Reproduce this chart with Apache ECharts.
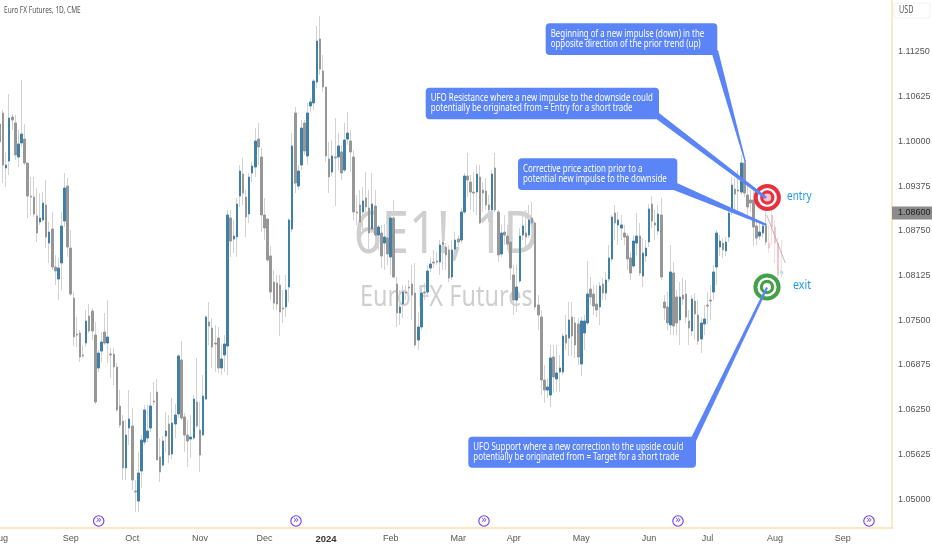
<!DOCTYPE html>
<html><head><meta charset="utf-8"><title>Euro FX Futures</title>
<script src="https://cdn.jsdelivr.net/npm/echarts@6/dist/echarts.min.js"></script>
<style>html,body{margin:0;padding:0;background:#fff}#c{width:932px;height:550px}</style></head>
<body><div id="c"></div>
<script>
const opens=[1.10243,1.10397,1.09628,1.09726,1.10341,1.10257,1.09782,1.09978,1.10033,1.09698,1.09236,1.09222,1.08957,1.08873,1.08901,1.09111,1.08579,1.08775,1.08244,1.08076,1.08300,1.08887,1.09376,1.08509,1.07810,1.07307,1.07321,1.07014,1.07181,1.07559,1.07629,1.07293,1.06832,1.07069,1.07335,1.07181,1.07027,1.07027,1.06846,1.06301,1.06091,1.05434,1.05993,1.06021,1.05112,1.04972,1.05392,1.05797,1.05853,1.05993,1.06370,1.06496,1.05587,1.05475,1.05881,1.06049,1.05629,1.06049,1.06189,1.06944,1.06147,1.05895,1.05839,1.05853,1.06356,1.05965,1.05895,1.06398,1.07475,1.07391,1.07181,1.07251,1.06832,1.07014,1.07139,1.08929,1.08635,1.08663,1.09236,1.09544,1.09222,1.08985,1.09558,1.09642,1.10033,1.09782,1.08971,1.08915,1.08398,1.08034,1.08020,1.07992,1.07671,1.07685,1.07964,1.08775,1.10397,1.09376,1.09670,1.10257,1.09796,1.10495,1.10537,1.10830,1.11432,1.10984,1.10760,1.09754,1.09572,1.09782,1.09782,1.09852,1.09600,1.10033,1.10005,1.09782,1.09013,1.09111,1.09013,1.09209,1.09069,1.08775,1.09097,1.08691,1.08719,1.08579,1.08649,1.08384,1.08929,1.08006,1.07601,1.07726,1.07894,1.07964,1.08006,1.07880,1.07223,1.07405,1.07894,1.07894,1.08230,1.08314,1.08328,1.08314,1.08593,1.08523,1.08482,1.08104,1.08495,1.08635,1.08621,1.09013,1.09516,1.09432,1.09292,1.09292,1.09502,1.09320,1.09306,1.09111,1.09041,1.09628,1.09013,1.08426,1.08733,1.08677,1.08593,1.08132,1.07782,1.08048,1.08691,1.08719,1.08691,1.08929,1.08859,1.07713,1.07545,1.06664,1.06524,1.06454,1.06986,1.06678,1.06776,1.06776,1.07293,1.07251,1.07545,1.07461,1.07447,1.06888,1.07321,1.07461,1.07936,1.07866,1.07726,1.07685,1.08006,1.07880,1.08076,1.08356,1.08999,1.08831,1.08789,1.08719,1.08677,1.08370,1.08258,1.08579,1.08677,1.08118,1.08398,1.08593,1.09125,1.08859,1.08747,1.08971,1.07754,1.07685,1.07433,1.08160,1.07824,1.07503,1.07852,1.07866,1.07489,1.07349,1.07768,1.07573,1.07237,1.07447,1.07712,1.07782,1.07894,1.08244,1.08523,1.08579,1.08468,1.08663,1.09013,1.09334,1.09320,1.09292,1.09698,1.09250,1.09181,1.09181,1.08817,1.08677,1.08719,1.08817];
const closes=[1.09992,1.09670,1.09670,1.10327,1.10299,1.09810,1.09964,1.10103,1.09698,1.09236,1.09222,1.08985,1.08719,1.08929,1.09139,1.08663,1.08733,1.08244,1.08188,1.08230,1.08817,1.09348,1.08523,1.07866,1.07265,1.07293,1.06986,1.07000,1.07489,1.07349,1.07349,1.06356,1.07041,1.07195,1.07181,1.07265,1.07014,1.06846,1.06245,1.06035,1.05434,1.05895,1.06119,1.05266,1.05098,1.05364,1.05825,1.06245,1.05951,1.06301,1.06356,1.05545,1.05378,1.05811,1.05951,1.05615,1.06063,1.06175,1.07000,1.06133,1.05895,1.05811,1.05867,1.06398,1.06021,1.05615,1.06440,1.07545,1.07419,1.07125,1.07167,1.06832,1.06958,1.07167,1.08971,1.08607,1.08677,1.09125,1.09586,1.09278,1.08943,1.09502,1.09656,1.10005,1.09922,1.08971,1.08789,1.08342,1.07894,1.07740,1.07726,1.07615,1.07657,1.07922,1.08901,1.09936,1.09418,1.09586,1.10187,1.09866,1.10397,1.10551,1.10844,1.11404,1.11012,1.10760,1.09796,1.09502,1.09796,1.09768,1.09936,1.09558,1.10019,1.10117,1.09852,1.09013,1.08999,1.08873,1.09167,1.09083,1.08719,1.09125,1.08691,1.08803,1.08398,1.08663,1.08426,1.08929,1.08104,1.07601,1.07685,1.07894,1.07880,1.07950,1.07852,1.07153,1.07405,1.07880,1.07880,1.08188,1.08286,1.08300,1.08314,1.08552,1.08552,1.08412,1.08090,1.08482,1.08621,1.08593,1.09013,1.09516,1.09460,1.09292,1.09278,1.09544,1.08859,1.09278,1.09111,1.09041,1.09544,1.09041,1.08412,1.08719,1.08691,1.08565,1.08230,1.07782,1.07964,1.08677,1.08817,1.08663,1.08901,1.08859,1.07685,1.07573,1.06664,1.06524,1.06566,1.06972,1.06706,1.06762,1.06832,1.07279,1.07181,1.07503,1.07279,1.07153,1.06986,1.07489,1.07489,1.07866,1.07824,1.07698,1.07643,1.07978,1.07880,1.08062,1.08370,1.08943,1.08859,1.08901,1.08831,1.08663,1.08356,1.08160,1.08607,1.08677,1.08160,1.08440,1.08509,1.09055,1.08887,1.08831,1.08985,1.08104,1.07671,1.07461,1.08174,1.07419,1.07461,1.07824,1.07796,1.07545,1.07391,1.07796,1.07587,1.07209,1.07461,1.07517,1.07698,1.07768,1.08174,1.08719,1.08607,1.08482,1.08593,1.08999,1.09390,1.09264,1.09306,1.09698,1.09278,1.09083,1.09139,1.08803,1.08649,1.08733,1.08817,1.08593];
const highs=[1.10411,1.10439,1.09852,1.10663,1.10383,1.10369,1.10159,1.10858,1.10243,1.09698,1.09502,1.09502,1.09348,1.09278,1.09292,1.09460,1.08873,1.09013,1.08412,1.08370,1.09013,1.09558,1.09488,1.08761,1.07894,1.07545,1.07363,1.07153,1.07643,1.07726,1.07671,1.07475,1.07083,1.07335,1.07601,1.07782,1.07111,1.07111,1.06902,1.06524,1.06175,1.06105,1.06524,1.06273,1.05266,1.05657,1.05895,1.06315,1.06315,1.06496,1.06636,1.06678,1.05853,1.05881,1.06217,1.06175,1.06412,1.06328,1.07027,1.07209,1.06203,1.06105,1.06175,1.06454,1.06972,1.06356,1.06734,1.07573,1.07754,1.07531,1.07433,1.07405,1.07153,1.07293,1.09041,1.09041,1.08901,1.09209,1.09670,1.09768,1.09320,1.09558,1.09712,1.10187,1.10257,1.09908,1.09209,1.08929,1.08537,1.08202,1.08132,1.08132,1.07922,1.08132,1.08929,1.10117,1.10481,1.09670,1.10299,1.10299,1.10537,1.10607,1.10872,1.11613,1.11753,1.11208,1.10760,1.09992,1.10019,1.10327,1.10117,1.09950,1.10257,1.10411,1.10159,1.09880,1.09250,1.09320,1.09362,1.09572,1.09320,1.09558,1.09320,1.08831,1.08831,1.08845,1.08873,1.08957,1.09181,1.08104,1.07922,1.07992,1.07992,1.08062,1.08272,1.08300,1.07615,1.07964,1.08020,1.08272,1.08370,1.08482,1.08454,1.08621,1.08677,1.08579,1.08552,1.08621,1.08733,1.08691,1.09069,1.09558,1.09838,1.09530,1.09572,1.09670,1.09670,1.09432,1.09488,1.09250,1.09600,1.09838,1.09041,1.08831,1.08971,1.08831,1.08621,1.08272,1.08272,1.08789,1.08971,1.09041,1.09111,1.09153,1.08873,1.07852,1.07643,1.06874,1.06692,1.07153,1.07153,1.07153,1.07014,1.07321,1.07573,1.07754,1.07754,1.07545,1.07531,1.07545,1.07573,1.08328,1.08104,1.07992,1.07992,1.08034,1.08090,1.08174,1.08552,1.08971,1.09111,1.09013,1.08971,1.08831,1.08719,1.08454,1.08691,1.08999,1.08859,1.08649,1.08621,1.09125,1.09236,1.09041,1.09111,1.09209,1.07852,1.07894,1.08552,1.08314,1.07922,1.08034,1.08090,1.08062,1.07643,1.07852,1.07880,1.07782,1.07531,1.07712,1.07894,1.07992,1.08272,1.08761,1.08691,1.08649,1.08663,1.09083,1.09502,1.09488,1.09600,1.09810,1.09740,1.09390,1.09320,1.09320,1.08873,1.08873,1.08873,1.09069];
const lows=[1.09880,1.09418,1.09362,1.09530,1.10159,1.09740,1.09642,1.09922,1.09670,1.08929,1.08971,1.08943,1.08593,1.08831,1.08873,1.08509,1.08300,1.08202,1.07992,1.07782,1.07922,1.08803,1.08384,1.07838,1.07139,1.07125,1.06916,1.06972,1.07125,1.07321,1.07223,1.06328,1.06776,1.06916,1.07153,1.06902,1.06692,1.06594,1.06217,1.05993,1.05266,1.05266,1.05755,1.05126,1.04818,1.04818,1.05154,1.05755,1.05797,1.05937,1.06315,1.05545,1.05238,1.05447,1.05657,1.05503,1.05559,1.05853,1.06133,1.06105,1.05657,1.05447,1.05573,1.05825,1.05993,1.05378,1.05881,1.06384,1.07153,1.06832,1.06776,1.06762,1.06734,1.06776,1.06734,1.08384,1.08440,1.08384,1.09083,1.09111,1.08663,1.08859,1.09432,1.09502,1.09670,1.08733,1.08621,1.08314,1.07782,1.07643,1.07643,1.07279,1.07461,1.07545,1.07754,1.08733,1.09278,1.09320,1.09600,1.09810,1.09670,1.10411,1.10439,1.10746,1.10928,1.10691,1.09712,1.09278,1.09516,1.09097,1.09600,1.09460,1.09572,1.09950,1.09572,1.08901,1.08831,1.08831,1.08761,1.09013,1.08482,1.08719,1.08621,1.08482,1.08230,1.08202,1.08272,1.08132,1.08090,1.07405,1.07433,1.07531,1.07782,1.07852,1.07503,1.07125,1.07083,1.07363,1.07782,1.07852,1.08174,1.08230,1.08272,1.08132,1.08202,1.08202,1.08034,1.08062,1.08454,1.08537,1.08579,1.08985,1.09222,1.09041,1.09013,1.08971,1.08845,1.09013,1.09041,1.08873,1.09013,1.09013,1.08314,1.08384,1.08552,1.08482,1.08062,1.07573,1.07615,1.08020,1.08621,1.08482,1.08649,1.08831,1.07643,1.07363,1.06454,1.06342,1.06412,1.06287,1.06482,1.06496,1.06496,1.06734,1.07083,1.07000,1.07000,1.06972,1.06874,1.06720,1.07083,1.07433,1.07712,1.07573,1.07545,1.07433,1.07782,1.07782,1.08034,1.08314,1.08621,1.08552,1.08621,1.08552,1.08202,1.08062,1.08230,1.08412,1.08118,1.07964,1.08314,1.08523,1.08789,1.08621,1.08691,1.08062,1.07503,1.07363,1.07293,1.07293,1.07293,1.07153,1.07712,1.07461,1.07153,1.07279,1.07223,1.07153,1.07041,1.07293,1.07433,1.07503,1.07782,1.07992,1.08398,1.08370,1.08398,1.08593,1.08971,1.09013,1.09041,1.09250,1.09222,1.08971,1.09013,1.08537,1.08552,1.08621,1.08649,1.08552];
const projOpens=[1.08579,1.08971,1.08803,1.08579,1.08146];
const projCloses=[1.08509,1.08803,1.08579,1.08132,1.08188];
const projHighs=[1.08831,1.09111,1.08901,1.08663,1.08621];
const projLows=[1.08440,1.08552,1.08300,1.08062,1.08104];
const barCount=291;
const monthLabels=['Aug','Sep','Oct','Nov','Dec','2024','Feb','Mar','Apr','May','Jun','Jul','Aug','Sep'];
const monthIndex=[0,23,43,65,86,106,127,149,167,189,211,230,252,274];
const priceTicks=[1.05,1.05625,1.0625,1.06875,1.075,1.08125,1.0875,1.09375,1.1,1.10625,1.1125];
const lastPrice=1.086;
const chartTitle='Euro FX Futures, 1D, CME';
const symbolMark='6E1!, 1D';
const nameMark='Euro FX Futures';
const notes=['Beginning of a new impulse (down) in the\nopposite direction of the prior trend (up)',
 'UFO Resistance where a new impulse to the downside could\npotentially be originated from = Entry for a short trade',
 'Corrective price action prior to a\npotential new impulse to the downside',
 'UFO Support where a new correction to the upside could\npotentially be originated from = Target for a short trade'];

const FONT='"Noto Sans",sans-serif';
const AXF='"Liberation Sans",sans-serif';
const BLUE='#5b85f6';
const cats=Array.from({length:barCount},(_,i)=>String(i));
const labelAt={};monthIndex.forEach((k,j)=>labelAt[k]=monthLabels[j]);
const wicks=opens.map((o,i)=>[o,closes[i],lows[i],highs[i]]);
const bodies=opens.map((o,i)=>[o,closes[i],Math.min(o,closes[i]),Math.max(o,closes[i])]);
const pad=Array(opens.length).fill('-');
const pWicks=pad.concat(projOpens.map((o,i)=>[o,projCloses[i],projLows[i],projHighs[i]]));
const pBodies=pad.concat(projOpens.map((o,i)=>[o,projCloses[i],Math.min(o,projCloses[i]),Math.max(o,projCloses[i])]));

function label(x,y,text,fill,size,sx,z,extra){
 return {type:'text',z:z,silent:true,x:x,y:y,scaleX:sx,style:Object.assign({text:text,fill:fill,font:size+'px '+FONT,verticalAlign:'middle',align:'left'},extra||{})};
}
function callout(rect,tail,text){
 return [
  {type:'polygon',z:50,silent:true,shape:{points:tail},style:{fill:BLUE}},
  {type:'rect',z:50,silent:true,shape:{x:rect[0],y:rect[1],width:rect[2],height:rect[3],r:4},style:{fill:BLUE}},
  label(rect[0]+5,rect[1]+rect[3]/2,text,'#fff',10.4,0.76,51,{lineHeight:10})
 ];
}
function ring(cx,cy,col,inner){
 return [
  {type:'circle',z:40,silent:true,shape:{cx:cx,cy:cy,r:11.6},style:{fill:'#fff',stroke:col,lineWidth:4}},
  {type:'circle',z:40,silent:true,shape:{cx:cx,cy:cy,r:5.6},style:{fill:inner,stroke:col,lineWidth:3.2}}
 ];
}
function eventIcon(cx){
 return [
  {type:'circle',z:45,silent:true,shape:{cx:cx,cy:521,r:5.2},style:{fill:'#fff',stroke:'#6a3cf0',lineWidth:1.1}},
  {type:'text',z:46,silent:true,x:cx,y:520.5,style:{text:'»',fill:'#6a3cf0',font:'10px "DejaVu Sans"',align:'center',verticalAlign:'middle'}}
 ];
}
const graphics=[
 label(354,236,symbolMark,'#cfcfcf',58,0.84,0),
 label(360,298,nameMark,'#cfcfcf',29,0.81,0),
 label(4,10,chartTitle,'#555',9.6,0.68,60),
 {type:'rect',z:60,silent:true,shape:{x:894,y:3,width:36,height:15,r:2},style:{fill:'#fff',stroke:'#f2f2f2',lineWidth:1}},
 label(899,10.5,'USD','#555',10,0.72,61),
 ...ring(767.3,197.5,'#e8303f','#f7c4c8'),
 ...ring(767,287,'#43a047','#fff'),
 {type:'line',z:41,silent:true,shape:{x1:766.7,y1:215,x2:785.3,y2:263},style:{stroke:'#b5a5a5',lineWidth:0.8}},
 ...callout([545.7,23.3,171.6,31.7],[[712,54],[718,50],[746,162],[745,163]],notes[0]),
 ...callout([425.7,87.7,233.3,31.6],[[655,118],[659,113],[767,197],[765,199]],notes[1]),
 ...callout([518,158.3,159.3,31.7],[[671,189],[677,183],[767,224],[766,226]],notes[2]),
 ...callout([468.3,436.7,227.7,31],[[691,438],[696,441],[768,288],[766,287]],notes[3]),
 label(787,196.5,'entry','#2196f3',12.5,0.8,55),
 label(793,285.5,'exit','#2196f3',12.5,0.85,55),
 ...[98.7,296,484,678,869].flatMap(eventIcon)
];

const chart=echarts.init(document.getElementById('c'),null,{renderer:'canvas'});
chart.setOption({
 animation:false,backgroundColor:'#fff',
 grid:{left:0,right:40,top:0,bottom:22,outerBoundsMode:'none'},
 tooltip:{show:false},legend:{show:false},
 xAxis:{type:'category',data:cats,boundaryGap:false,containShape:false,
  axisLine:{show:true,lineStyle:{color:'#fbe0ae',width:1.5}},axisTick:{show:false},splitLine:{show:false},
  axisLabel:{show:true,interval:0,margin:6,color:'#555',fontSize:9,fontFamily:AXF,hideOverlap:false,showMinLabel:true,showMaxLabel:true,
   formatter:function(v){const s=labelAt[v]||'';return s==='2024'?'{b|2024}':s;},
   rich:{b:{fontWeight:'bold',color:'#333',fontSize:9.5,fontFamily:AXF}}}},
 yAxis:{type:'value',position:'right',min:1.04595,max:1.11977,containShape:false,
  axisLine:{show:true,onZero:false,lineStyle:{color:'#fbe0ae',width:1.5}},axisTick:{show:false},splitLine:{show:false},
  axisLabel:{customValues:priceTicks,margin:6,color:'#555',fontSize:9,fontFamily:AXF,align:'left',formatter:v=>v.toFixed(5)}},
 graphic:{elements:graphics},
 series:[
  {name:'Wicks',type:'candlestick',data:wicks,barWidth:1,z:3,silent:true,
   itemStyle:{color:'#d2d2d2',color0:'#d2d2d2',borderColor:'#d2d2d2',borderColor0:'#d2d2d2',borderWidth:1}},
  {name:'Bodies',type:'candlestick',data:bodies,barWidth:2,z:4,silent:true,
   itemStyle:{color:'#3f7fa8',color0:'#979797',borderColor:'#3f7fa8',borderColor0:'#979797',borderWidth:1},
   markLine:{silent:true,symbol:'none',animation:false,lineStyle:{color:'rgba(0,0,0,0)',width:0},clip:false,
    data:[{yAxis:lastPrice}],
    label:{show:true,position:'end',distance:0,formatter:()=>lastPrice.toFixed(5),backgroundColor:'#8b8b8b',color:'#222',fontSize:9,fontFamily:AXF,padding:[2,5,2,6]}}},
  {name:'Projected wicks',type:'candlestick',data:pWicks,barWidth:1,z:3,silent:true,
   itemStyle:{color:'#f6dcdf',color0:'#f6dcdf',borderColor:'#f6dcdf',borderColor0:'#f6dcdf',borderWidth:1}},
  {name:'Projected bodies',type:'candlestick',data:pBodies,barWidth:2,z:4,silent:true,
   itemStyle:{color:'#bfe2e4',color0:'#f5c3c8',borderColor:'#bfe2e4',borderColor0:'#f5c3c8',borderWidth:1}}
 ]
});
</script></body></html>
